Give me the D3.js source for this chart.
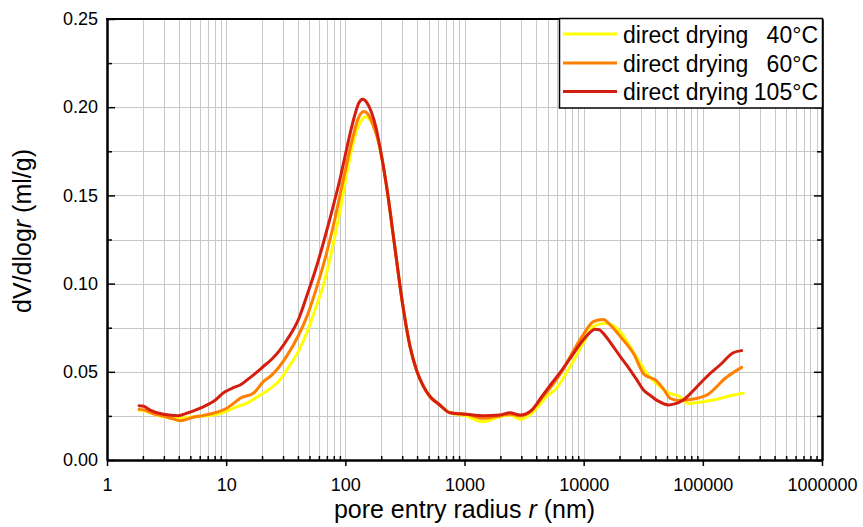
<!DOCTYPE html>
<html>
<head>
<meta charset="utf-8">
<script src="https://cdn.jsdelivr.net/npm/d3@7"></script>
<style>
  html, body { margin: 0; padding: 0; background: #fff; }
  svg { display: block; font-family: "Liberation Sans", Arial, sans-serif; }
</style>
</head>
<body>
<svg id="chart" width="863" height="527"></svg>
<script>
// Pore size distribution, mercury intrusion, three drying temperatures
const seriesNames = ["direct drying", "direct drying", "direct drying"];
const seriesTemps = ["40°C", "60°C", "105°C"];
const seriesColors = ["#FFFF00", "#FF8000", "#D41E10"];

const r40 = [1.86, 2.1, 2.5, 2.97, 4.0, 5.3, 6.5, 7.8, 10, 12, 14.8, 17.5, 20.5, 24, 28.3, 33, 40, 48, 57, 66, 75.4, 90, 102.6, 116.6, 128, 140, 149, 160, 180, 195.5, 222, 261, 300, 350, 400, 450, 513, 620, 754, 1035, 1425, 1975, 2410, 2930, 3664, 4900, 5900, 7700, 9900, 12050, 15000, 17500, 20300, 26100, 32500, 37000, 43700, 52000, 64300, 75600, 100000, 122500, 160000, 218000];
const v40 = [0.0283, 0.0278, 0.026, 0.0245, 0.0235, 0.0245, 0.025, 0.0255, 0.0274, 0.030, 0.0321, 0.035, 0.0378, 0.041, 0.0454, 0.052, 0.061, 0.073, 0.087, 0.100, 0.116, 0.141, 0.162, 0.180, 0.189, 0.1935, 0.1946, 0.193, 0.186, 0.176, 0.155, 0.120, 0.090, 0.064, 0.050, 0.042, 0.036, 0.0312, 0.0268, 0.025, 0.0217, 0.0245, 0.0255, 0.0231, 0.0265, 0.036, 0.0406, 0.053, 0.066, 0.0756, 0.0775, 0.0765, 0.0727, 0.0614, 0.051, 0.046, 0.0416, 0.038, 0.0359, 0.032, 0.033, 0.034, 0.036, 0.0378];

const r60 = [1.86, 2.1, 2.5, 2.97, 3.5, 4.1, 5.3, 6.5, 7.8, 10.1, 11.5, 13.1, 16.9, 20.5, 24, 28, 33, 40, 48, 57, 68.8, 79, 96, 116.6, 128, 143.4, 155, 171, 195.5, 222, 261, 300, 350, 400, 450, 513, 620, 754, 1035, 1425, 1975, 2410, 2930, 3664, 4446, 5400, 6400, 7700, 9900, 12050, 14620, 17000, 20300, 26100, 32500, 40000, 47000, 53000, 63000, 73300, 90000, 107700, 158000, 211700];
const v60 = [0.0287, 0.0282, 0.026, 0.0249, 0.0235, 0.0223, 0.0242, 0.0253, 0.0265, 0.0293, 0.032, 0.035, 0.0378, 0.0444, 0.048, 0.053, 0.060, 0.070, 0.082, 0.097, 0.116, 0.1323, 0.1587, 0.1840, 0.1935, 0.1975, 0.196, 0.190, 0.177, 0.155, 0.120, 0.090, 0.064, 0.050, 0.042, 0.036, 0.0312, 0.0268, 0.026, 0.0236, 0.025, 0.026, 0.025, 0.028, 0.035, 0.042, 0.049, 0.0586, 0.0709, 0.0784, 0.0797, 0.076, 0.070, 0.0605, 0.0482, 0.0454, 0.040, 0.035, 0.0338, 0.034, 0.035, 0.0368, 0.0469, 0.0525];

const r105 = [1.86, 2.0, 2.3, 2.97, 3.97, 4.66, 6.0, 7.8, 9.78, 11.5, 13.1, 15, 17.5, 20.5, 24, 28, 33, 40, 48, 57.5, 66, 74.4, 82, 90, 100, 109.6, 120.6, 130, 140, 152, 166, 180, 195.5, 222, 261, 300, 350, 400, 450, 513, 620, 754, 1035, 1425, 1975, 2410, 2930, 3664, 4446, 5400, 6400, 7700, 9900, 11200, 12445, 13500, 14620, 17000, 20300, 24000, 27956, 31500, 35900, 42000, 51300, 58000, 68600, 85000, 107700, 140000, 180000, 211700];
const v105 = [0.0308, 0.0306, 0.0283, 0.0259, 0.0251, 0.0265, 0.0293, 0.0331, 0.0387, 0.041, 0.0425, 0.0454, 0.049, 0.053, 0.057, 0.062, 0.069, 0.079, 0.094, 0.110, 0.124, 0.137, 0.148, 0.159, 0.173, 0.185, 0.196, 0.2025, 0.2045, 0.2025, 0.197, 0.189, 0.177, 0.155, 0.120, 0.090, 0.064, 0.050, 0.042, 0.036, 0.0312, 0.0268, 0.0259, 0.0251, 0.0255, 0.0268, 0.0255, 0.0283, 0.0359, 0.0435, 0.050, 0.0576, 0.068, 0.072, 0.0741, 0.0738, 0.0718, 0.066, 0.0586, 0.052, 0.0454, 0.040, 0.0368, 0.0335, 0.0312, 0.0318, 0.034, 0.040, 0.0472, 0.054, 0.0608, 0.062];

const xTickValues = [1, 10, 100, 1000, 10000, 100000, 1000000];
const xTickLabels = ["1", "10", "100", "1000", "10000", "100000", "1000000"];
const yTickValues = [0, 0.05, 0.10, 0.15, 0.20, 0.25];
const yTickLabels = ["0.00", "0.05", "0.10", "0.15", "0.20", "0.25"];

const W = 863, H = 527;
const margin = { left: 107, top: 19, right: 41, bottom: 67 };
const iw = W - margin.left - margin.right;
const ih = H - margin.top - margin.bottom;

const svg = d3.select("#chart");
const g = svg.append("g").attr("transform", `translate(${margin.left},${margin.top})`);

const x = d3.scaleLog().domain([1, 1e6]).range([0, iw]);
const y = d3.scaleLinear().domain([0, 0.25]).range([ih, 0]);

// minor log ticks (2..9 per decade)
const xMinor = [];
for (let e = 0; e < 6; e++) for (let k = 2; k <= 9; k++) xMinor.push(k * Math.pow(10, e));
const yMinor = d3.range(0.025, 0.25, 0.05);
const yGrid = d3.range(1, 10).map(i => i * 0.025);
const xGrid = xMinor.concat(xTickValues.slice(1, -1));

// grid
const grid = g.append("g").attr("stroke", "#c8c8c8").attr("stroke-width", 1);
grid.selectAll("line.vx").data(xGrid).join("line")
  .attr("x1", d => Math.round(x(d)) + 0.5).attr("x2", d => Math.round(x(d)) + 0.5)
  .attr("y1", 0).attr("y2", ih);
grid.selectAll("line.hy").data(yGrid).join("line")
  .attr("x1", 0).attr("x2", iw)
  .attr("y1", d => Math.round(y(d)) + 0.5).attr("y2", d => Math.round(y(d)) + 0.5);

// curves
const line = d3.line()
  .x(d => x(d[0])).y(d => y(d[1]))
  .curve(d3.curveMonotoneX);
const series = [
  { r: r40, v: v40 },
  { r: r60, v: v60 },
  { r: r105, v: v105 }
];
series.forEach((s, i) => {
  const pts = s.r.map((rv, j) => [rv, s.v[j]]);
  g.append("path")
    .datum(pts)
    .attr("d", line)
    .attr("fill", "none")
    .attr("stroke", seriesColors[i])
    .attr("stroke-width", 3)
    .attr("stroke-linejoin", "round")
    .attr("stroke-linecap", "round");
});

// axes
const axisStyle = sel => {
  sel.select(".domain").attr("stroke", "#000").attr("stroke-width", 2);
  sel.selectAll(".tick line").attr("stroke", "#000").attr("stroke-width", 1.5);
  sel.selectAll("text").attr("font-size", 18).attr("fill", "#000").attr("font-family", "Liberation Sans, Arial, sans-serif");
};

// bottom: minor inward, major outward
g.append("g").attr("transform", `translate(0,${ih})`)
  .call(d3.axisBottom(x).tickValues(xMinor).tickSizeInner(-4).tickSizeOuter(0).tickFormat(""))
  .call(axisStyle);
g.append("g").attr("transform", `translate(0,${ih})`)
  .call(d3.axisBottom(x).tickValues(xTickValues).tickSizeInner(6).tickSizeOuter(0).tickPadding(12)
    .tickFormat((d, i) => xTickLabels[i]))
  .call(axisStyle);

// left: ticks inward
g.append("g")
  .call(d3.axisLeft(y).tickValues(yMinor).tickSizeInner(-5).tickSizeOuter(0).tickFormat(""))
  .call(axisStyle);
g.append("g")
  .call(d3.axisLeft(y).tickValues(yTickValues).tickSizeInner(-8).tickSizeOuter(0).tickPadding(9)
    .tickFormat((d, i) => yTickLabels[i]))
  .call(axisStyle);

// right: ticks inward, no labels
g.append("g").attr("transform", `translate(${iw},0)`)
  .call(d3.axisRight(y).tickValues(yMinor).tickSizeInner(-5).tickSizeOuter(0).tickFormat(""))
  .call(axisStyle);
g.append("g").attr("transform", `translate(${iw},0)`)
  .call(d3.axisRight(y).tickValues(yTickValues).tickSizeInner(-8).tickSizeOuter(0).tickFormat(""))
  .call(axisStyle);

// top frame line
g.append("line").attr("x1", -1).attr("x2", iw + 1).attr("y1", 0).attr("y2", 0)
  .attr("stroke", "#000").attr("stroke-width", 2);

// axis titles
const xt = svg.append("text")
  .attr("x", margin.left + iw / 2).attr("y", 518)
  .attr("text-anchor", "middle").attr("font-size", 25).attr("fill", "#000");
xt.append("tspan").text("pore entry radius ");
xt.append("tspan").attr("font-style", "italic").text("r");
xt.append("tspan").text(" (nm)");

const yt = svg.append("text")
  .attr("transform", `translate(31,231) rotate(-90)`)
  .attr("text-anchor", "middle").attr("font-size", 25).attr("fill", "#000");
yt.append("tspan").text("dV/dlog");
yt.append("tspan").attr("font-style", "italic").text("r");
yt.append("tspan").text(" (ml/g)");

// legend
const leg = svg.append("g");
leg.append("rect")
  .attr("x", 559.5).attr("y", 18.5).attr("width", 263).attr("height", 89.5)
  .attr("fill", "#fff").attr("stroke", "#000").attr("stroke-width", 1.5);
const legY = [34, 63, 91.5];
seriesNames.forEach((n, i) => {
  leg.append("line")
    .attr("x1", 563).attr("x2", 617).attr("y1", legY[i]).attr("y2", legY[i])
    .attr("stroke", seriesColors[i]).attr("stroke-width", 3);
  leg.append("text")
    .attr("x", 623).attr("y", legY[i] + 8.5)
    .attr("font-size", 23).attr("fill", "#000").text(n);
  leg.append("text")
    .attr("x", 818).attr("y", legY[i] + 8.5).attr("text-anchor", "end")
    .attr("font-size", 23).attr("fill", "#000").text(seriesTemps[i]);
});
</script>
</body>
</html>
